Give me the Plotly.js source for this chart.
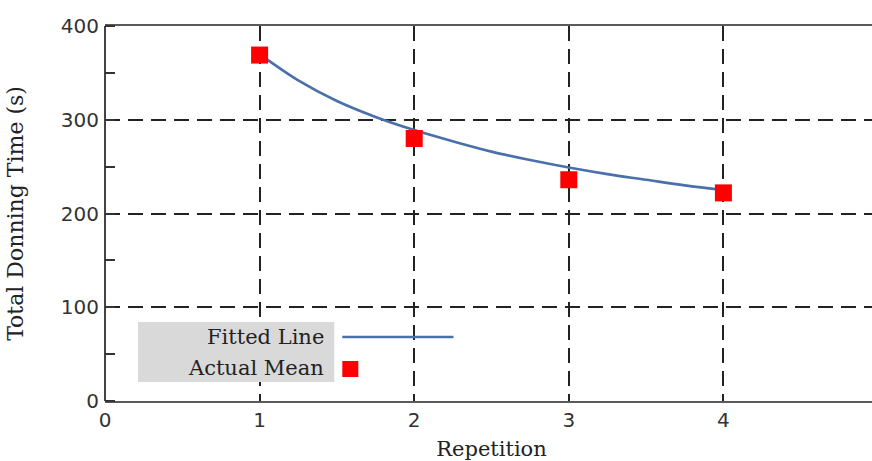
<!DOCTYPE html>
<html>
<head>
<meta charset="utf-8">
<script src="https://cdn.plot.ly/plotly-3.0.1.min.js"></script>
<style>
html,body{margin:0;padding:0;overflow:hidden;background:#fff;}
#chart{width:878px;height:461px;}
</style>
</head>
<body>
<div id="chart"></div>
<script>
// Data
const repetitions = [1, 2, 3, 4];
const actualMean = [369, 280, 236, 222];

const fitX = [1, 1.25, 1.5, 1.75, 2, 2.25, 2.5, 2.75, 3, 3.25, 3.5, 3.75, 4];
const fitY = [370, 342, 320, 303, 289, 277, 266, 257, 249, 242, 236, 230, 225];

const xTicks = [0, 1, 2, 3, 4, 5];
const yTicks = [0, 100, 200, 300, 400];

const seriesNames = ["Fitted Line", "Actual Mean"];

const serif = "DejaVu Serif, Liberation Serif, serif";
const sans = "DejaVu Sans, Verdana, sans-serif";

const traces = [
  {
    x: fitX, y: fitY, type: "scatter", mode: "lines",
    name: seriesNames[0], showlegend: false,
    line: {color: "#4a70aa", width: 2.6, shape: "spline"}
  },
  {
    x: repetitions, y: actualMean, type: "scatter", mode: "markers",
    name: seriesNames[1], showlegend: false,
    marker: {symbol: "square", size: 17, color: "#ff0000"}
  }
];

const gridDash = "15px,8px";

const layout = {
  width: 878, height: 461,
  margin: {l: 105, r: 0, t: 26, b: 60},
  paper_bgcolor: "#ffffff", plot_bgcolor: "#ffffff",
  showlegend: false,
  xaxis: {
    range: [0, 5], tickvals: xTicks, ticktext: xTicks.map(String),
    automargin: false,
    showgrid: true, gridcolor: "#222", gridwidth: 2, griddash: gridDash,
    zeroline: true, zerolinecolor: "#444", zerolinewidth: 2,
    showline: true, linecolor: "#5a5a5a", linewidth: 2, mirror: true,
    ticks: "", ticklabelstandoff: 0,
    tickfont: {family: sans, size: 20, color: "#333"},
    title: {text: "Repetition", font: {family: serif, size: 21, color: "#222"}, standoff: 14}
  },
  yaxis: {
    range: [0, 400], tickvals: yTicks, ticktext: yTicks.map(String),
    automargin: false,
    showgrid: true, gridcolor: "#222", gridwidth: 2, griddash: gridDash,
    zeroline: false, showline: false, mirror: "ticks",
    ticks: "", ticklabelstandoff: 5,
    minor: {dtick: 50, ticks: "inside", ticklen: 10, tickwidth: 2, tickcolor: "#333", showgrid: false},
    tickfont: {family: sans, size: 20, color: "#333"},
    title: {text: "Total Donning Time (s)", font: {family: serif, size: 22, color: "#222"}, standoff: 31}
  },
  shapes: [
    {type: "rect", xref: "paper", yref: "paper", x0: 0.0427, x1: 0.2966, y0: 0.0507, y1: 0.2107,
     fillcolor: "#d9d9d9", line: {width: 0}, layer: "above"},
    {type: "line", xref: "paper", yref: "paper", x0: 0.307, x1: 0.4508, y0: 0.1707, y1: 0.1707,
     line: {color: "#4a70aa", width: 2.6}, layer: "above"},
    {type: "rect", xref: "paper", yref: "paper", x0: 0.307, x1: 0.3277, y0: 0.064, y1: 0.1067,
     fillcolor: "#ff0000", line: {width: 0}, layer: "above"}
  ],
  annotations: [
    {xref: "paper", yref: "paper", x: 0.286, y: 0.1707, xanchor: "right", yanchor: "middle",
     text: seriesNames[0], showarrow: false, font: {family: serif, size: 21, color: "#222"}},
    {xref: "paper", yref: "paper", x: 0.286, y: 0.088, xanchor: "right", yanchor: "middle",
     text: seriesNames[1], showarrow: false, font: {family: serif, size: 21, color: "#222"}}
  ]
};

Plotly.newPlot("chart", traces, layout, {displayModeBar: false, staticPlot: true});
</script>
</body>
</html>
